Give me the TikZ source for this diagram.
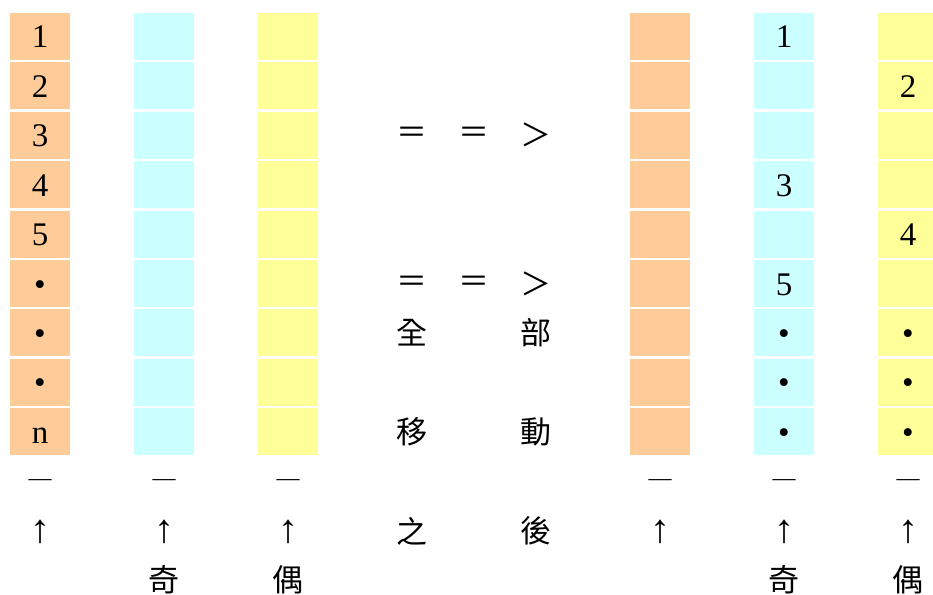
\documentclass[tikz,border=0pt]{standalone}
\usepackage{fontspec}
\setmainfont{Liberation Serif}
\newfontfamily\cjk{Noto Sans CJK TC}
\definecolor{cOr}{HTML}{FFCC99}
\definecolor{cCy}{HTML}{CCFFFF}
\definecolor{cYe}{HTML}{FFFF99}
\begin{document}
\begin{tikzpicture}[x=1pt,y=-1pt,
  cell/.style={minimum width=60pt, minimum height=47pt, inner sep=0pt, text height=23pt, text depth=0pt,
    font=\fontsize{33}{33}\selectfont},
  dashlab/.style={inner sep=0pt, font=\fontsize{23}{23}\selectfont},
  arrlab/.style={inner sep=0pt, font=\fontsize{40}{40}\selectfont},
  cjklab/.style={inner sep=0pt, font=\cjk\fontsize{31}{31}\selectfont}]
\useasboundingbox (0,0) rectangle (933,594);
% left columns
\foreach \t [count=\r from 0] in {1,2,3,4,5,•,•,•,n}
  \node[cell, fill=cOr] (La\r) at (40,{36.5+49.4*\r}) {\t};
\foreach \r in {0,...,8}
  \node[cell, fill=cCy] (Lb\r) at (164,{36.5+49.4*\r}) {};
\foreach \r in {0,...,8}
  \node[cell, fill=cYe] (Lc\r) at (288,{36.5+49.4*\r}) {};
% right columns
\foreach \r in {0,...,8}
  \node[cell, fill=cOr] (Ra\r) at (660,{36.5+49.4*\r}) {};
\foreach \t [count=\r from 0] in {1,{},{},3,{},5,•,•,•}
  \node[cell, fill=cCy] (Rb\r) at (784,{36.5+49.4*\r}) {\t};
\foreach \t [count=\r from 0] in {{},2,{},{},4,{},•,•,•}
  \node[cell, fill=cYe] (Rc\r) at (908,{36.5+49.4*\r}) {\t};
% column footers
\foreach \x/\n in {40/a,164/b,288/c,660/d,784/e,908/f}{
  \node[dashlab] (dash\n) at (\x,483) {—};
  \node[arrlab] (arr\n) at (\x,531.5) {↑};
}
\node[cjklab] (odd1) at (164,580) {奇};
\node[cjklab] (even1) at (288,580) {偶};
\node[cjklab] (odd2) at (784,580) {奇};
\node[cjklab] (even2) at (908,580) {偶};
% middle text
\node[cjklab] (e1) at (412,135) {＝};
\node[cjklab] (e2) at (474,135) {＝};
\node[cjklab] (g1) at (536,135) {＞};
\node[cjklab] (e3) at (412,284) {＝};
\node[cjklab] (e4) at (474,284) {＝};
\node[cjklab] (g2) at (536,284) {＞};
\node[cjklab] (m1) at (412,333) {全};
\node[cjklab] (m2) at (536,333) {部};
\node[cjklab] (m3) at (412,432) {移};
\node[cjklab] (m4) at (536,432) {動};
\node[cjklab] (m5) at (412,531) {之};
\node[cjklab] (m6) at (536,531) {後};
\end{tikzpicture}
\end{document}
